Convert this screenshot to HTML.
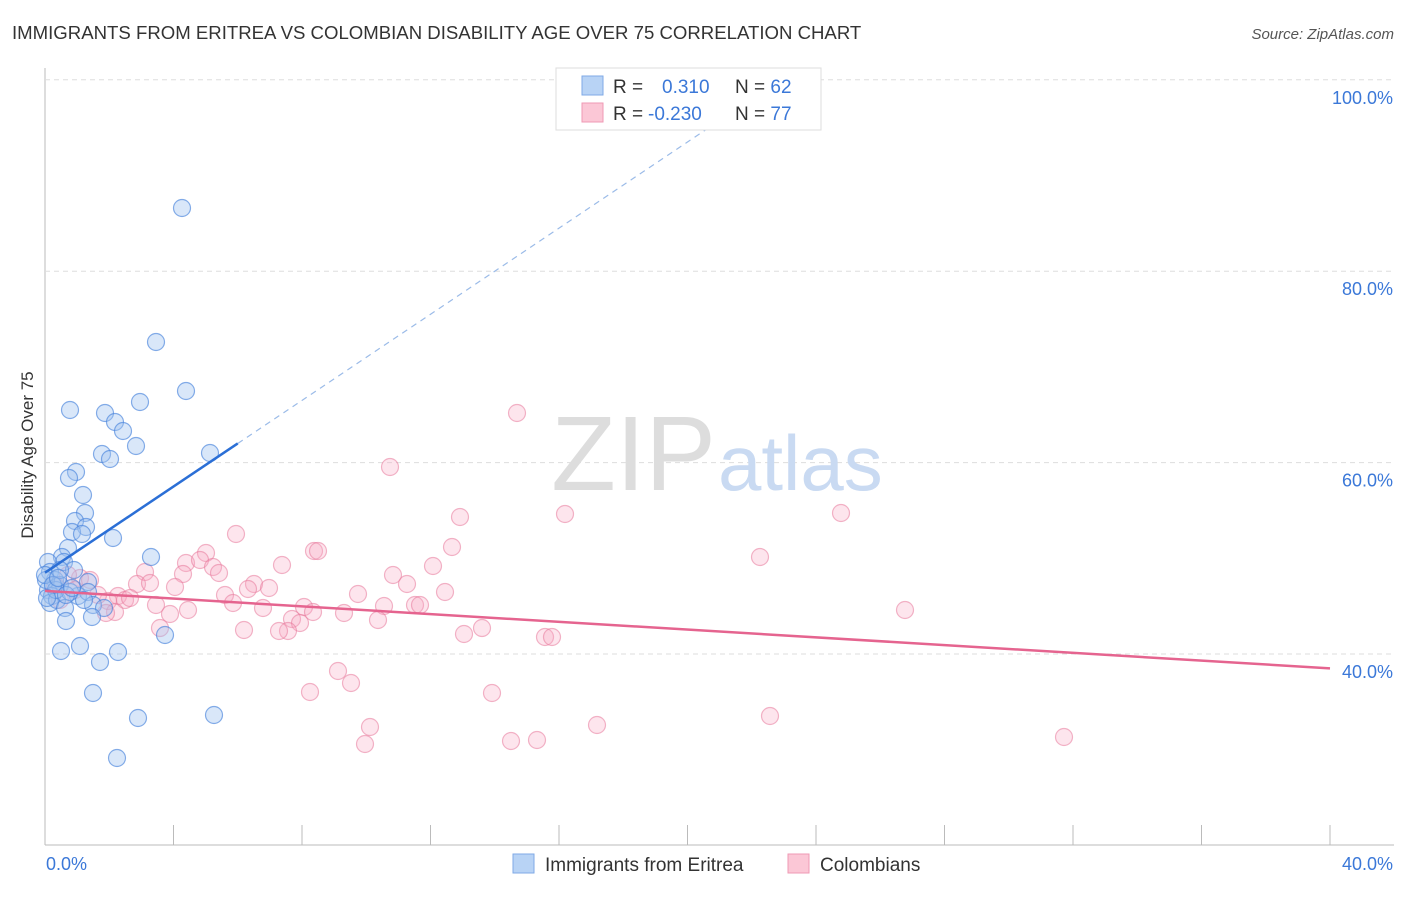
<!DOCTYPE html>
<html><head><meta charset="utf-8"><style>
body{margin:0;background:#fff;font-family:"Liberation Sans",sans-serif;}
svg text{font-family:"Liberation Sans",sans-serif;}
</style></head><body>
<svg id="c" width="1406" height="892" viewBox="0 0 1406 892">
<text x="12" y="39" font-size="18.6" fill="#333">IMMIGRANTS FROM ERITREA VS COLOMBIAN DISABILITY AGE OVER 75 CORRELATION CHART</text>
<text x="1394" y="39" font-size="15" fill="#555" font-style="italic" text-anchor="end">Source: ZipAtlas.com</text>
<text x="33" y="455" font-size="17" fill="#333" text-anchor="middle" transform="rotate(-90 33 455)">Disability Age Over 75</text>
<g id="grid"></g>
<text x="716" y="490" font-size="106" fill="#ddd" text-anchor="end" font-family="Liberation Serif">ZIP</text>
<text x="718" y="490" font-size="78" fill="#c9daf2">atlas</text>
<g id="pts"></g>
<g id="lines"></g>
<g>
<rect x="556" y="68" width="265" height="62" fill="#fff" stroke="#ddd"/>
<rect x="582" y="76" width="21" height="19" fill="#b8d3f5" stroke="#7fa9e6"/>
<rect x="582" y="103" width="21" height="19" fill="#fbc7d6" stroke="#ef9ab4"/>
<text x="613" y="93" font-size="19" fill="#333">R = <tspan x="662" fill="#3b78d8">0.310</tspan><tspan x="735" fill="#333">N = </tspan><tspan fill="#3b78d8">62</tspan></text>
<text x="613" y="120" font-size="19" fill="#333">R = <tspan x="648" fill="#3b78d8">-0.230</tspan><tspan x="735" fill="#333">N = </tspan><tspan fill="#3b78d8">77</tspan></text>
</g>
<g>
<rect x="513" y="854" width="21" height="19" fill="#b8d3f5" stroke="#7fa9e6"/>
<text x="545" y="871" font-size="19" fill="#333">Immigrants from Eritrea</text>
<rect x="788" y="854" width="21" height="19" fill="#fbc7d6" stroke="#ef9ab4"/>
<text x="820" y="871" font-size="19" fill="#333">Colombians</text>
</g>
</svg>
<script>
const yTicks=[40,60,80,100];
const yTickLabels=["40.0%","60.0%","80.0%","100.0%"];
const xEndLabels=["0.0%","40.0%"];
const eritreaPts=[[182,208],[156,342],[186,391],[140,402],[70,410],[105,413],[115,422],[123,431],[136,446],[102,454],[110,459],[210,453],[76,472],[69,478],[83,495],[85,513],[75,521],[86,527],[72,532],[82,534],[113,538],[68,548],[151,557],[62,557],[64,562],[48,562],[74,570],[88,582],[50,572],[55,580],[60,585],[48,590],[52,596],[78,596],[88,592],[50,603],[57,600],[65,608],[93,605],[104,608],[92,617],[66,621],[165,635],[80,646],[61,651],[118,652],[100,662],[93,693],[138,718],[214,715],[117,758],[46,580],[56,590],[70,592],[45,575],[60,570],[53,585],[47,598],[66,595],[58,578],[84,600],[72,588]].map(p=>[(p[0]-45)/1285*40,40+(654-p[1])/9.57]);
const colombPts=[[517,413],[390,467],[460,517],[565,514],[841,513],[236,534],[452,547],[206,553],[314,551],[318,551],[760,557],[186,563],[200,560],[213,567],[282,565],[433,566],[219,573],[183,574],[145,572],[393,575],[254,584],[137,584],[150,583],[175,587],[248,589],[269,588],[358,594],[407,584],[445,592],[225,595],[118,596],[125,600],[108,601],[233,603],[156,605],[188,610],[263,608],[304,607],[384,606],[415,605],[420,605],[313,612],[344,613],[115,612],[106,613],[170,614],[292,619],[300,623],[378,620],[288,631],[160,628],[244,630],[279,631],[482,628],[464,634],[545,637],[552,637],[905,610],[338,671],[351,683],[310,692],[492,693],[770,716],[597,725],[370,727],[365,744],[511,741],[537,740],[1064,737],[80,578],[90,580],[60,600],[75,590],[55,585],[98,595],[68,575],[130,598]].map(p=>[(p[0]-45)/1285*40,40+(654-p[1])/9.57]);
const eritreaTrend=[[0,48.5],[6.0,62.0]];
const eritreaTrendExt=[6.0,100.0];
const colombTrend=[[0,46.6],[40,38.5]];
const X=v=>45+v/40*1285, Y=v=>654-(v-40)*9.57;
const NS="http://www.w3.org/2000/svg";
function mk(t,a,parent){const e=document.createElementNS(NS,t);for(const k in a)e.setAttribute(k,a[k]);parent.appendChild(e);return e;}
const g=document.getElementById('grid');
let ax=mk('line',{x1:45,y1:68,x2:45,y2:845,stroke:'#bbb'},g);


let bx=mk('line',{x1:45,y1:845,x2:1394,y2:845,stroke:'#bbb'},g);


yTicks.forEach((t,i)=>{
 const l=mk('line',{x1:45,y1:Y(t),x2:1394,y2:Y(t),stroke:'#ddd','stroke-dasharray':'5,4'},g);
 
 
 const tx=mk('text',{x:1393,y:Y(t)+24,'font-size':18,fill:'#3b78d8','text-anchor':'end'},g);
 tx.textContent=yTickLabels[i];
 
 
});
for(let i=0;i<=10;i++){
 const x=X(i*4);
 const l=mk('line',{x1:x,y1:825,x2:x,y2:845,stroke:'#bbb'},g);
 
 
}
[[0,46,'start'],[40,1393,'end']].forEach((d,i)=>{
 const tx=mk('text',{x:d[1],y:870,'font-size':18,fill:'#3b78d8','text-anchor':d[2]},g);
 tx.textContent=xEndLabels[i];
 
 
});
const pg=document.getElementById('pts');
colombPts.forEach(p=>{
 const c=mk('circle',{cx:X(p[0]),cy:Y(p[1]),r:8.5,fill:'rgba(248,170,195,0.3)',stroke:'rgba(232,120,155,0.55)','stroke-width':1.2},pg);
 
 
});
eritreaPts.forEach(p=>{
 const c=mk('circle',{cx:X(p[0]),cy:Y(p[1]),r:8.5,fill:'rgba(160,196,240,0.4)',stroke:'rgba(70,130,220,0.65)','stroke-width':1.2},pg);
 
 
});
const lg=document.getElementById('lines');
const slope=(eritreaTrend[1][1]-eritreaTrend[0][1])/(eritreaTrend[1][0]-eritreaTrend[0][0]);
const xe=eritreaTrend[1][0]+(eritreaTrendExt[1]-eritreaTrend[1][1])/slope;
let d1=mk('line',{x1:X(eritreaTrend[1][0]),y1:Y(eritreaTrend[1][1]),x2:X(xe),y2:Y(eritreaTrendExt[1]),stroke:'#9bbbe8','stroke-width':1.2,'stroke-dasharray':'6,5'},lg);


let t1=mk('line',{x1:X(eritreaTrend[0][0]),y1:Y(eritreaTrend[0][1]),x2:X(eritreaTrend[1][0]),y2:Y(eritreaTrend[1][1]),stroke:'#2b6fd6','stroke-width':2.5},lg);


let t2=mk('line',{x1:X(colombTrend[0][0]),y1:Y(colombTrend[0][1]),x2:X(colombTrend[1][0]),y2:Y(colombTrend[1][1]),stroke:'#e5648f','stroke-width':2.5},lg);


</script>
</body></html>
